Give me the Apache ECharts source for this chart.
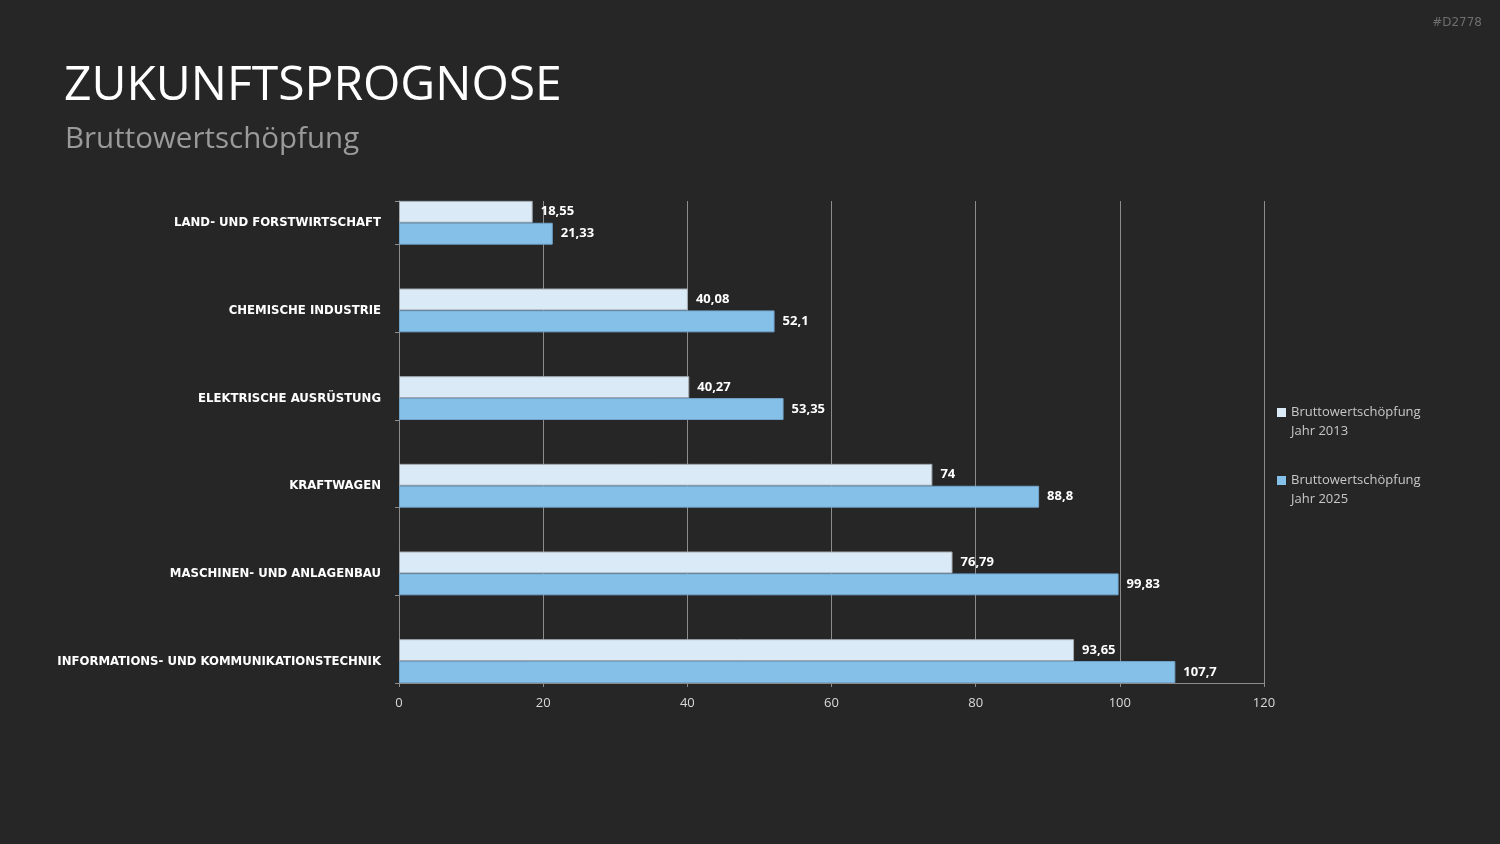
<!DOCTYPE html>
<html>
<head>
<meta charset="utf-8">
<title>Zukunftsprognose</title>
<script src="https://cdn.jsdelivr.net/npm/echarts@6/dist/echarts.min.js"></script>
<style>
  html, body { margin: 0; padding: 0; background: #262626; }
  #main { width: 1500px; height: 844px; }
</style>
</head>
<body>
<div id="main"></div>
<script type="text/javascript">
    // Daten
    var categories = ['LAND- UND FORSTWIRTSCHAFT', 'CHEMISCHE INDUSTRIE', 'ELEKTRISCHE AUSRÜSTUNG',
        'KRAFTWAGEN', 'MASCHINEN- UND ANLAGENBAU', 'INFORMATIONS- UND KOMMUNIKATIONSTECHNIK'];
    var seriesNames = ['Bruttowertschöpfung Jahr 2013', 'Bruttowertschöpfung Jahr 2025'];
    var values2013 = [18.55, 40.08, 40.27, 74, 76.79, 93.65];
    var values2025 = [21.33, 52.1, 53.35, 88.8, 99.83, 107.7];
    var xTicks = [0, 20, 40, 60, 80, 100, 120];

    var gridLeft = 399, gridRight = 1500 - 1264;
    var lineGray = '#8c8c8c';

    function fmt(p) {
        return String(p.value).replace('.', ',');
    }

    var myChart = echarts.init(document.getElementById('main'));
    var option = {
        backgroundColor: '#262626',
        animation: false,
        title: [
            {
                text: 'ZUKUNFTSPROGNOSE',
                left: 59, top: 57,
                textStyle: { color: '#ffffff', fontSize: 48, fontWeight: 'normal', fontFamily: 'Open Sans' }
            },
            {
                text: 'Bruttowertschöpfung',
                left: 60, top: 120,
                textStyle: { color: '#9a9a9a', fontSize: 29.5, fontWeight: 'normal', fontFamily: 'Open Sans' }
            },
            {
                text: '#D2778',
                right: 13, top: 12,
                textStyle: { color: '#6e6e6e', fontSize: 12, fontWeight: 'normal', fontFamily: 'DejaVu Sans' }
            }
        ],
        legend: {
            data: seriesNames,
            orient: 'vertical',
            left: 1272, top: 398,
            itemGap: 30,
            itemWidth: 9, itemHeight: 38,
            // Quadrat oben, auf Höhe der ersten Textzeile
            icon: 'path://M0,0L0.01,0ZM0,5L9,5L9,14L0,14ZM0,38L0.01,38Z',
            itemStyle: { borderWidth: 0 },
            formatter: function (name) { return name.replace(' Jahr', '\nJahr'); },
            textStyle: { color: '#c8c8c8', fontSize: 13, lineHeight: 19, fontFamily: 'Open Sans' }
        },
        grid: [
            { left: gridLeft, right: gridRight, top: 157, height: 526 },
            { left: gridLeft, right: gridRight, top: 201, height: 482 }
        ],
        xAxis: [
            { gridIndex: 0, type: 'value', min: xTicks[0], max: xTicks[xTicks.length - 1], show: false },
            {
                gridIndex: 1, type: 'value', min: xTicks[0], max: xTicks[xTicks.length - 1], interval: 20,
                axisLine: { show: true, lineStyle: { color: lineGray, width: 1 } },
                axisTick: { show: true, length: 4, lineStyle: { color: lineGray } },
                axisLabel: { color: '#d9d9d9', fontSize: 13, margin: 14, fontFamily: 'Open Sans' },
                splitLine: { show: true, lineStyle: { color: lineGray, width: 1 } }
            }
        ],
        yAxis: [
            {
                gridIndex: 0, type: 'category', data: categories, inverse: true,
                axisLine: { show: false },
                axisTick: {
                    show: true, length: 4, lineStyle: { color: lineGray },
                    interval: function (i) { return i > 0; }
                },
                axisLabel: {
                    color: '#ffffff', fontSize: 13, fontWeight: 'bold', margin: 18,
                    fontFamily: "'DejaVu Sans Condensed', 'Liberation Sans Narrow', 'DejaVu Sans', sans-serif",
                    verticalAlign: 'top', lineHeight: 44
                }
            },
            {
                gridIndex: 1, type: 'value', min: 0, max: 1, interval: 1,
                axisLine: { show: true, lineStyle: { color: lineGray, width: 1 } },
                axisTick: { show: true, length: 4, lineStyle: { color: lineGray } },
                axisLabel: { show: false },
                splitLine: { show: false }
            }
        ],
        series: [
            {
                // Platzhalter: Abstand oberhalb jeder Balkengruppe
                name: 'platz', type: 'bar', xAxisIndex: 0, yAxisIndex: 0,
                barWidth: '50%', barGap: '0%',
                data: categories.map(function () { return '-'; }),
                silent: true
            },
            {
                name: seriesNames[0], type: 'bar', xAxisIndex: 0, yAxisIndex: 0,
                barWidth: '25%', barGap: '0%',
                data: values2013,
                itemStyle: { color: '#daeaf7', borderColor: '#a3aab0', borderWidth: 1 },
                label: {
                    show: true, position: 'right', distance: 8, formatter: fmt,
                    color: '#ffffff', fontSize: 13, fontWeight: 'bold', fontFamily: 'Open Sans'
                }
            },
            {
                name: seriesNames[1], type: 'bar', xAxisIndex: 0, yAxisIndex: 0,
                barWidth: '25%', barGap: '0%',
                data: values2025,
                itemStyle: { color: '#85c0e8', borderColor: '#73a5cb', borderWidth: 1 },
                label: {
                    show: true, position: 'right', distance: 8, formatter: fmt,
                    color: '#ffffff', fontSize: 13, fontWeight: 'bold', fontFamily: 'Open Sans'
                }
            }
        ]
    };
    myChart.setOption(option);
</script>
</body>
</html>
